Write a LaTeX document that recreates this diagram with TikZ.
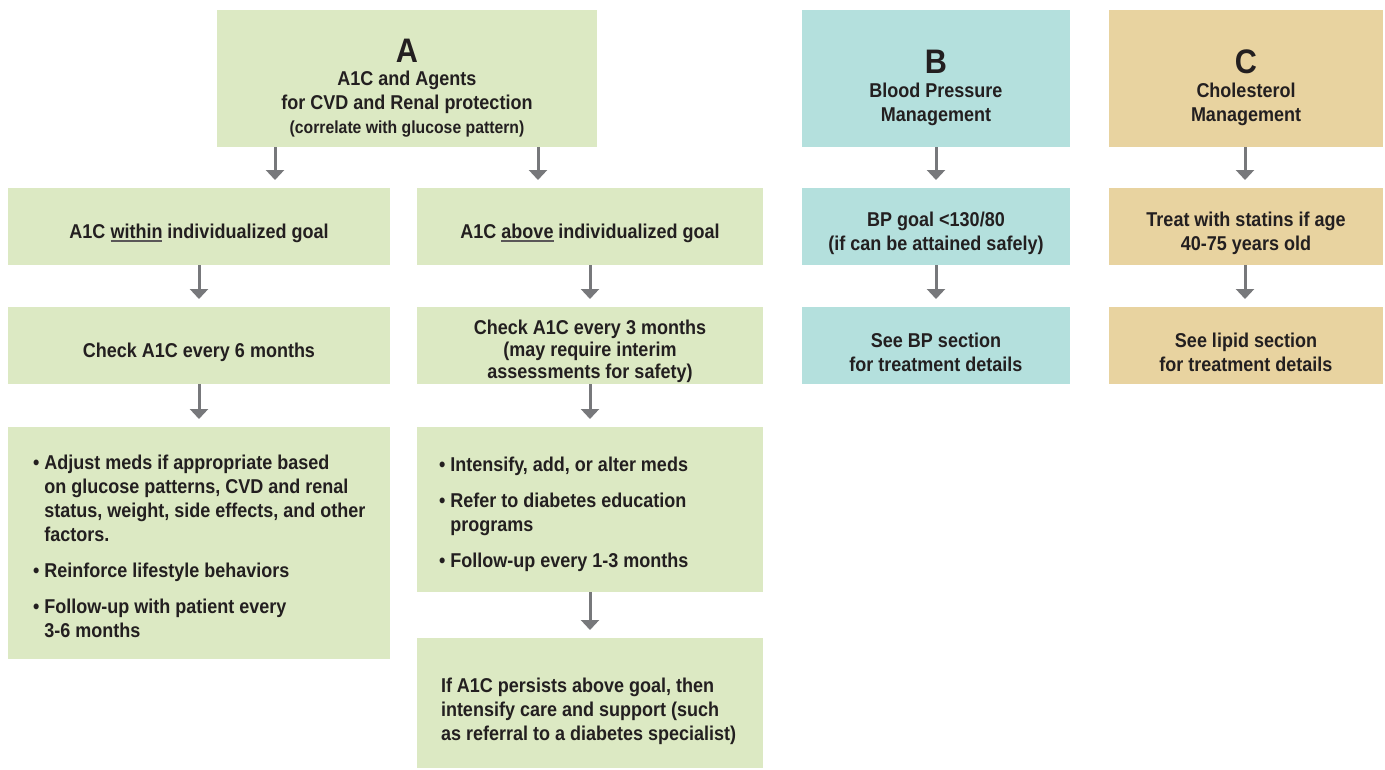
\documentclass[tikz,border=0pt]{standalone}
\usepackage{fontspec}
\setmainfont{Liberation Sans}[FakeStretch=0.9]
\usetikzlibrary{arrows.meta}
\definecolor{gfill}{HTML}{DCE9C3}
\definecolor{tfill}{HTML}{B4E0DD}
\definecolor{cfill}{HTML}{E8D3A0}
\definecolor{arrgray}{HTML}{77787B}
\definecolor{ink}{HTML}{231F20}
\newcommand\bul{\textbullet\hspace{5pt}}
\newcommand\ind{\phantom{\textbullet}\hspace{5pt}}
\newcommand\ulx[1]{\setbox0\hbox{#1}\rlap{\color{ink!75}\rule[-4pt]{\wd0}{1.6pt}}\box0\relax}
\tikzset{
  box/.style={rectangle, draw=none, inner sep=0pt, outer sep=0pt},
  gbox/.style={box, fill=gfill},
  tbox/.style={box, fill=tfill},
  cbox/.style={box, fill=cfill},
  txt/.style={inner sep=0pt, outer sep=0pt, text=ink, font=\fontsize{20}{24}\selectfont\bfseries, align=center},
  ltxt/.style={txt, align=left},
  small/.style={txt, font=\fontsize{17.5}{21}\selectfont\bfseries},
  head/.style={txt, font=\fontsize{34}{40}\selectfont\bfseries},
  arr/.style={draw=arrgray, line width=3pt, -{Triangle[width=18pt,length=10pt]}, shorten >=8pt},
}
\begin{document}
\begin{tikzpicture}[x=1pt,y=-1pt]
\useasboundingbox (0,0) rectangle (1385,769);
% boxes
\node[gbox, minimum width=380pt, minimum height=137pt] (a)  at (407,78.5) {};
\node[tbox, minimum width=268pt, minimum height=137pt] (b)  at (936,78.5) {};
\node[cbox, minimum width=274pt, minimum height=137pt] (c)  at (1246,78.5) {};
\node[gbox, minimum width=382pt, minimum height=77pt] (l2) at (199,226.5) {};
\node[gbox, minimum width=346pt, minimum height=77pt] (r2) at (590,226.5) {};
\node[tbox, minimum width=268pt, minimum height=77pt] (b2) at (936,226.5) {};
\node[cbox, minimum width=274pt, minimum height=77pt] (c2) at (1246,226.5) {};
\node[gbox, minimum width=382pt, minimum height=77pt] (l3) at (199,345.5) {};
\node[gbox, minimum width=346pt, minimum height=77pt] (r3) at (590,345.5) {};
\node[tbox, minimum width=268pt, minimum height=77pt] (b3) at (936,345.5) {};
\node[cbox, minimum width=274pt, minimum height=77pt] (c3) at (1246,345.5) {};
\node[gbox, minimum width=382pt, minimum height=232pt] (l4) at (199,543) {};
\node[gbox, minimum width=346pt, minimum height=165pt] (r4) at (590,509.5) {};
\node[gbox, minimum width=346pt, minimum height=130pt] (r5) at (590,703) {};
% texts
\node[head, anchor=base] (ah) at (407,62) {A};
\node[txt] (at) at (407,92.5) {A1C and Agents\\for CVD and Renal protection};
\node[small, anchor=base] (as) at (407,133) {(correlate with glucose pattern)};
\node[head, anchor=base] (bh) at (936,73) {B};
\node[txt] (bt) at (936,104.5) {Blood Pressure\\Management};
\node[head, anchor=base] (ch) at (1246,73) {C};
\node[txt] (ct) at (1246,104.5) {Cholesterol\\Management};
\node[txt, anchor=base] (l2t) at (199,238) {A1C \ulx{within} individualized goal};
\node[txt, anchor=base] (r2t) at (590,238) {A1C \ulx{above} individualized goal};
\node[txt] (b2t) at (936,233) {BP goal <130/80\\(if can be attained safely)};
\node[txt] (c2t) at (1246,233) {Treat with statins if age\\40-75 years old};
\node[txt, anchor=base] (l3t) at (199,357) {Check A1C every 6 months};
\node[txt, font=\fontsize{20}{22}\selectfont\bfseries] (r3t) at (590,351.5) {Check A1C every 3 months\\(may require interim\\assessments for safety)};
\node[txt] (b3t) at (936,352.8) {See BP section\\for treatment details};
\node[txt] (c3t) at (1246,352.8) {See lipid section\\for treatment details};
\node[ltxt, anchor=west] (l4t) at (33,546.5) {\bul Adjust meds if appropriate based\\\ind on glucose patterns, CVD and renal\\\ind status, weight, side effects, and other\\\ind factors.\\[12pt]\bul Reinforce lifestyle behaviors\\[12pt]\bul Follow-up with patient every\\\ind 3-6 months};
\node[ltxt, anchor=west] (r4t) at (439,514.5) {\bul Intensify, add, or alter meds\\[12pt]\bul Refer to diabetes education\\\ind programs\\[12pt]\bul Follow-up every 1-3 months};
\node[ltxt, anchor=west] (r5t) at (441,711.5) {If A1C persists above goal, then\\intensify care and support (such\\as referral to a diabetes specialist)};
% connectors
\draw[arr] (a.south -| 275,0) -- (l2.north -| 275,0);
\draw[arr] (a.south -| 538,0) -- (r2.north -| 538,0);
\draw[arr] (l2) -- (l3);
\draw[arr] (l3.south) -- (l4.north);
\draw[arr] (r2) -- (r3);
\draw[arr] (r3.south) -- (r4.north);
\draw[arr] (r4.south) -- (r5.north);
\draw[arr] (b) -- (b2);
\draw[arr] (b2) -- (b3);
\draw[arr] (c.south -| 1245,0) -- (c2.north -| 1245,0);
\draw[arr] (c2.south -| 1245,0) -- (c3.north -| 1245,0);
\end{tikzpicture}
\end{document}
